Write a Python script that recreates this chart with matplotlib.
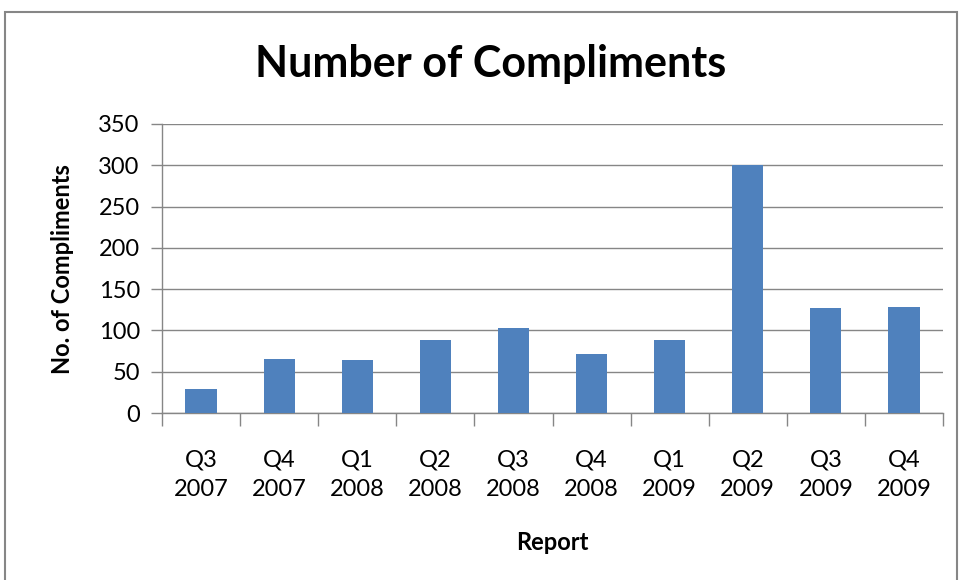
import matplotlib.pyplot as plt
from matplotlib.patches import Rectangle

quarters = ["Q3", "Q4", "Q1", "Q2", "Q3", "Q4", "Q1", "Q2", "Q3", "Q4"]
years = ["2007", "2007", "2008", "2008", "2008", "2008", "2009", "2009", "2009", "2009"]
compliments = [29, 66, 64, 88, 103, 72, 89, 300, 127, 128]
y_ticks = [0, 50, 100, 150, 200, 250, 300, 350]


def main():
    plt.rcParams["font.family"] = ["Lato", "DejaVu Sans"]
    fig = plt.figure(figsize=(9.6, 5.8), dpi=100)
    ax = fig.add_axes([162 / 960, 1 - 413 / 580, 781 / 960, 289 / 580])

    # outer chart border
    fig.add_artist(Rectangle((5 / 960, -0.02), 952 / 960, 1.02 - 12 / 580,
                             transform=fig.transFigure, fill=False,
                             edgecolor="#868686", lw=1.5))

    labels = [f"{q}\n{y}" for q, y in zip(quarters, years)]
    x = list(range(len(compliments)))
    ax.bar(x, compliments, width=0.4, color="#4F81BD", zorder=3)

    ax.set_xlim(-0.5, len(compliments) - 0.5)
    ax.set_ylim(0, 350)
    ax.set_yticks(y_ticks)
    ax.set_yticklabels([str(v) for v in y_ticks], fontsize=17)
    ax.grid(axis="y", color="#868686", lw=1, zorder=0)

    ax.set_xticks(x)
    ax.set_xticklabels(labels, fontsize=17, linespacing=1.5)
    ax.tick_params(axis="x", length=0, pad=26)
    ax.set_xticks([i - 0.5 for i in range(len(compliments) + 1)], minor=True)
    ax.tick_params(axis="x", which="minor", length=9, color="#868686", width=1)
    ax.tick_params(axis="y", length=8, color="#868686", width=1, pad=8)

    for side in ["top", "right"]:
        ax.spines[side].set_visible(False)
    for side in ["left", "bottom"]:
        ax.spines[side].set_color("#868686")
        ax.spines[side].set_linewidth(1)

    fig.text(491 / 960, 1 - 64 / 580, "Number of Compliments",
             fontsize=31, fontweight="bold", ha="center", va="center")
    fig.text(62 / 960, 1 - 269 / 580, "No. of Compliments", rotation=90,
             fontsize=17, fontweight="bold", ha="center", va="center")
    fig.text(552 / 960, 1 - 542 / 580, "Report",
             fontsize=17, fontweight="bold", ha="center", va="center")

    fig.savefig("out.png", dpi=100)


if __name__ == "__main__":
    main()
